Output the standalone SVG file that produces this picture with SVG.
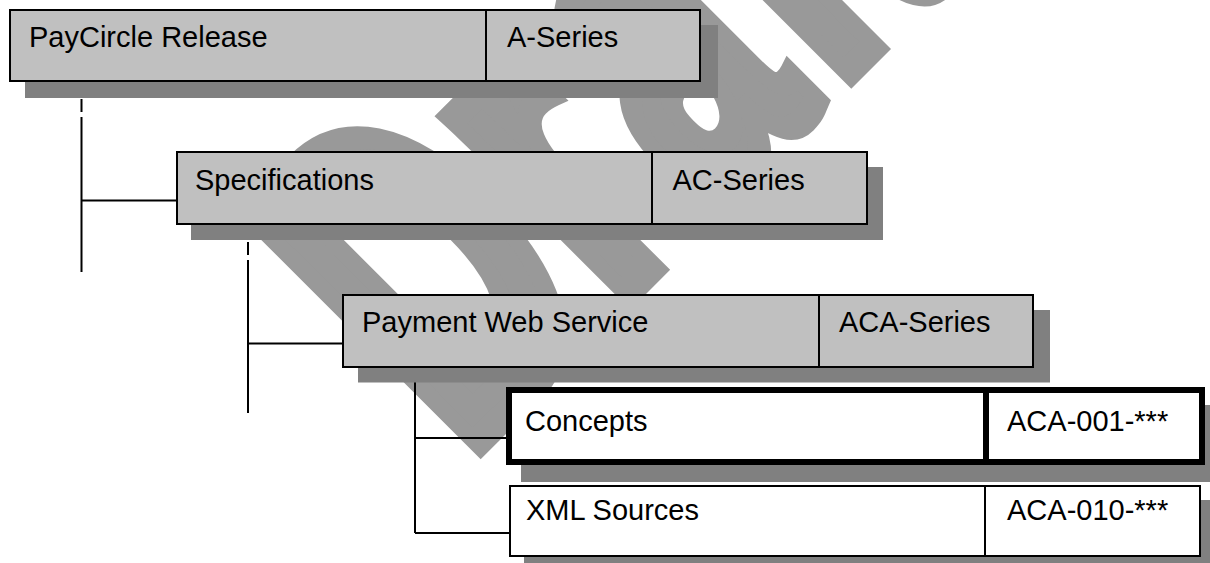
<svg xmlns="http://www.w3.org/2000/svg" width="1210" height="563" viewBox="0 0 1210 563">
<style>
.bx{fill:#c0c0c0;stroke:#000;stroke-width:2}
.wb{fill:#fff;stroke:#000;stroke-width:2}
.thick{fill:#fff;stroke:#000;stroke-width:6}
.sh{fill:#808080}
.dv{stroke:#000;stroke-width:2}
.dvt{stroke:#000;stroke-width:6}
.t{font-family:"Liberation Sans",Arial,sans-serif;font-size:29px;fill:#000}
.ln{fill:none;stroke:#000;stroke-width:2}
.dash{stroke-dasharray:13 5}
.wm{font-family:"Liberation Sans",Arial,sans-serif;font-weight:bold;font-size:468px;fill:#999;stroke:#999;stroke-width:28;stroke-linejoin:miter}
</style>
<rect width="1210" height="563" fill="#fff"/>
<g id="watermark" transform="translate(463.3 456.9) rotate(-45) scale(0.611 1)">
<text class="wm" x="0 345 561 845 1001" y="0">Draft</text>
</g>
<g id="connectors">
<path class="ln dash" d="M81.5 81V128"/>
<path class="ln" d="M81.5 128V272M81.5 200.5H177"/>
<path class="ln dash" d="M248 224V271"/>
<path class="ln" d="M248 271V413M248 343.5H343"/>
<path class="ln" d="M415 367V533M415 438H506M415 533H510"/>
</g>
<g id="paycircle">
<rect class="sh" x="25" y="25" width="693" height="73"/>
<rect class="bx" x="10" y="10" width="690" height="71"/>
<line class="dv" x1="486" y1="10" x2="486" y2="81"/>
<text class="t" x="29" y="46.7">PayCircle Release</text>
<text class="t" x="507" y="46.7">A-Series</text>
</g>
<g id="specifications">
<rect class="sh" x="191" y="167" width="692" height="73"/>
<rect class="bx" x="177" y="152" width="690" height="72"/>
<line class="dv" x1="652" y1="152" x2="652" y2="224"/>
<text class="t" x="195" y="190">Specifications</text>
<text class="t" x="672.5" y="190">AC-Series</text>
</g>
<g id="payment">
<rect class="sh" x="358" y="310" width="692" height="72.5"/>
<rect class="bx" x="343" y="295" width="690" height="72"/>
<line class="dv" x1="819" y1="295" x2="819" y2="367"/>
<text class="t" x="362" y="331.5">Payment Web Service</text>
<text class="t" x="839" y="331.5">ACA-Series</text>
</g>
<g id="concepts">
<rect class="sh" x="521" y="405" width="700" height="77"/>
<rect class="thick" x="509" y="390" width="693" height="72"/>
<line class="dvt" x1="986" y1="390" x2="986" y2="462"/>
<text class="t" x="525" y="430.7">Concepts</text>
<text class="t" x="1007" y="430.7">ACA-001-***</text>
</g>
<g id="xmlsources">
<rect class="sh" x="524" y="500" width="700" height="70"/>
<rect class="wb" x="510" y="486" width="690" height="70"/>
<line class="dv" x1="985" y1="486" x2="985" y2="556"/>
<text class="t" x="526" y="520">XML Sources</text>
<text class="t" x="1007" y="520">ACA-010-***</text>
</g>
</svg>
